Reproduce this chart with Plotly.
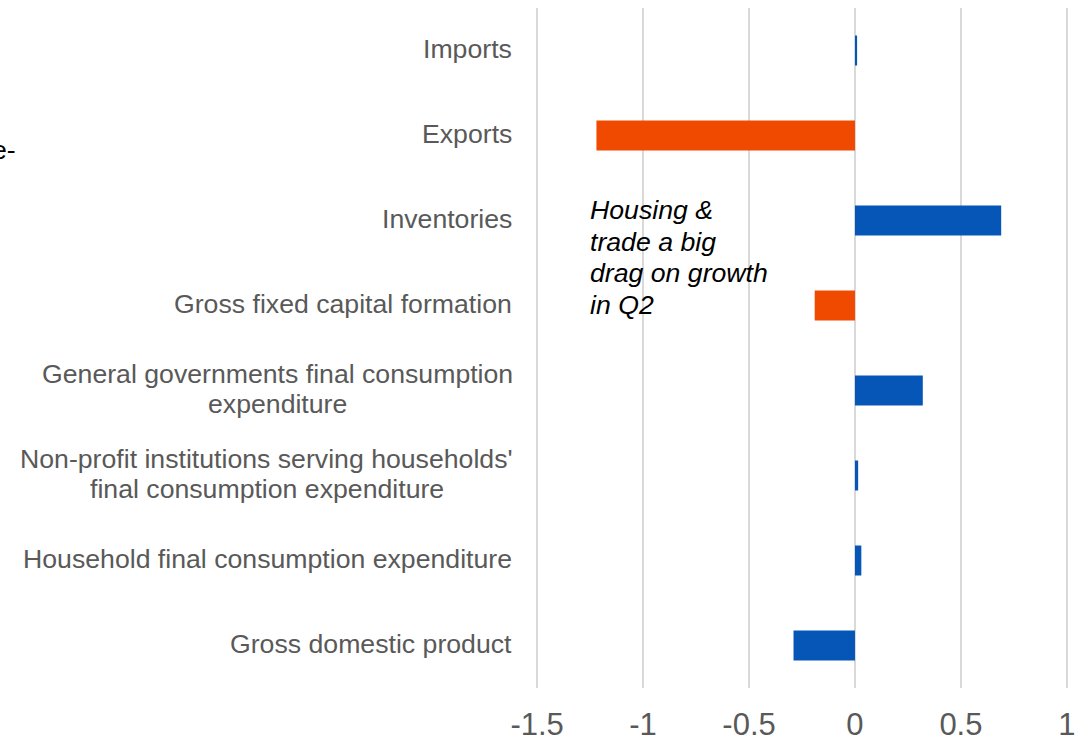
import plotly.graph_objects as go

# Contributions to quarterly GDP growth, percentage points
categories = [
    "Imports",
    "Exports",
    "Inventories",
    "Gross fixed capital formation",
    "General governments final consumption expenditure",
    "Non-profit institutions serving households' final consumption expenditure",
    "Household final consumption expenditure",
    "Gross domestic product",
]
# Label text as it is broken over lines
category_lines = [
    ["Imports"],
    ["Exports"],
    ["Inventories"],
    ["Gross fixed capital formation"],
    ["General governments final consumption", "expenditure"],
    ["Non-profit institutions serving households'", "final consumption expenditure"],
    ["Household final consumption expenditure"],
    ["Gross domestic product"],
]
values = [0.01, -1.22, 0.69, -0.19, 0.32, 0.015, 0.03, -0.29]
# Components singled out as the drag on growth
drag_components = {"Exports", "Gross fixed capital formation"}

tick_values = [-1.5, -1, -0.5, 0, 0.5, 1]
tick_labels = ["-1.5", "-1", "-0.5", "0", "0.5", "1"]

note_lines = ["Housing &", "trade a big", "drag on growth", "in Q2"]

BLUE = "#0656B7"
ORANGE = "#F04A00"
GREY = "#595959"
FONT = "Liberation Sans, Arial, sans-serif"
FS = 26.67

colors = [ORANGE if c in drag_components else BLUE for c in categories]

fig = go.Figure(
    go.Bar(
        x=values,
        y=categories,
        orientation="h",
        marker=dict(color=colors, line=dict(width=0)),
        width=0.353,
        hoverinfo="x+y",
    )
)

annotations = []
plot_left = 535
label_right = 512
line_gap = 30
label_lift = 2
# Multi-line labels: each line centred on the widest line of the label
multi_centres = {
    "General governments final consumption expenditure": 277,
    "Non-profit institutions serving households' final consumption expenditure": 266.5,
}
for cat, lines in zip(categories, category_lines):
    if len(lines) == 1:
        annotations.append(dict(
            xref="paper", yref="y", x=0, y=cat, xanchor="right", yanchor="middle",
            xshift=label_right - plot_left + 2, yshift=label_lift, text=lines[0],
            showarrow=False, font=dict(family=FONT, size=FS, color=GREY),
        ))
        continue
    cx = multi_centres[cat]
    for k, line in enumerate(lines):
        annotations.append(dict(
            xref="paper", yref="y", x=0, y=cat, xanchor="center", yanchor="middle",
            xshift=cx - plot_left,
            yshift=(len(lines) - 1) * line_gap / 2 - k * line_gap + label_lift,
            text=line, showarrow=False,
            font=dict(family=FONT, size=FS, color=GREY),
        ))

# Commentary note inside the plot
note_top = 0.703
note_step = 0.0465
for k, line in enumerate(note_lines):
    annotations.append(dict(
        xref="x", yref="paper", x=-1.262, y=note_top - k * note_step,
        xanchor="left", yanchor="middle", text="<i>" + line + "</i>",
        showarrow=False, font=dict(family=FONT, size=FS, color="#000000"),
    ))

# Fragment of the heading running off the left edge
annotations.append(dict(
    xref="paper", yref="paper", x=-0.969, y=0.791, xanchor="right", yanchor="middle",
    text="e-", showarrow=False, font=dict(family=FONT, size=FS, color="#000000"),
))

fig.update_layout(
    width=1089,
    height=741,
    margin=dict(l=535, r=20, t=8, b=53),
    paper_bgcolor="white",
    plot_bgcolor="white",
    showlegend=False,
    annotations=annotations,
    xaxis=dict(
        range=[-1.51, 1.01],
        tickmode="array",
        tickvals=tick_values,
        ticktext=tick_labels,
        showgrid=True,
        gridcolor="#D9D9D9",
        gridwidth=2,
        zeroline=False,
        showline=False,
        ticks="",
        ticklabelstandoff=15,
        automargin=False,
        tickfont=dict(family=FONT, size=31, color=GREY),
        fixedrange=True,
    ),
    yaxis=dict(
        type="category",
        categoryorder="array",
        categoryarray=categories,
        autorange="reversed",
        showticklabels=False,
        showgrid=False,
        zeroline=False,
        showline=False,
        ticks="",
        automargin=False,
        fixedrange=True,
    ),
)

fig.write_html("out.html")
